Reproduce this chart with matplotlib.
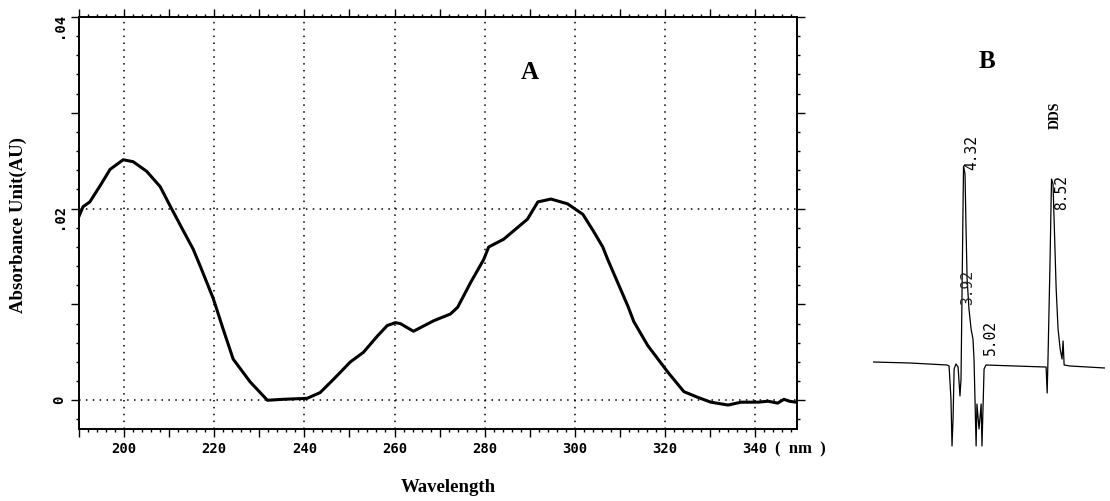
import numpy as np
import matplotlib
matplotlib.use('Agg')
import matplotlib.pyplot as plt
from matplotlib.ticker import MultipleLocator, FuncFormatter

# panel A : UV spectrum
wavelength = [190.0, 190.9, 192.4, 194.7, 196.9, 199.8, 202.0, 205.0, 208.0, 210.2,
              212.9, 215.3, 216.9, 219.8, 222.0, 224.2, 228.0, 231.8, 235.3, 240.6,
              243.5, 246.5, 250.2, 253.1, 256.2, 258.4, 260.2, 261.3, 264.2, 268.7,
              272.4, 274.0, 276.9, 279.8, 280.9, 284.2, 289.5, 291.8, 294.7, 298.4,
              301.8, 304.2, 306.2, 307.3, 311.8, 313.1, 316.2, 320.7, 324.2, 327.3,
              330.2, 334.0, 336.9, 340.7, 342.9, 345.0, 346.4, 347.6, 349.0]
absorbance = [0.0192, 0.0202, 0.0207, 0.0224, 0.0241, 0.0251, 0.0249, 0.0239, 0.0223, 0.0203,
              0.0179, 0.0158, 0.0140, 0.0106, 0.0074, 0.0043, 0.0019, 0.0000, 0.0001, 0.0002,
              0.0008, 0.0022, 0.0040, 0.0050, 0.0067, 0.0078, 0.0081, 0.0080, 0.0072, 0.0083,
              0.0090, 0.0097, 0.0123, 0.0147, 0.0160, 0.0168, 0.0189, 0.0207, 0.0210, 0.0205,
              0.0194, 0.0176, 0.0160, 0.0147, 0.0098, 0.0082, 0.0057, 0.0029, 0.0009, 0.0003,
              -0.0002, -0.0005, -0.0002, -0.0002, -0.0001, -0.0003, 0.0001, -0.0001, -0.0002]

# panel B : chromatogram (min, response)
rt = [0.00, 1.77, 3.53, 3.63, 3.72, 3.77, 3.82, 3.87, 3.96, 4.06,
      4.15, 4.20, 4.30, 4.32, 4.39, 4.44, 4.49, 4.58, 4.68, 4.77,
      4.82, 4.92, 4.96, 5.06, 5.16, 5.20, 5.30, 5.39, 6.78, 8.21,
      8.26, 8.31, 8.35, 8.45, 8.50, 8.52, 8.59, 8.64, 8.74, 8.83,
      8.93, 9.02, 9.07, 9.12, 9.40, 11.07]
signal = [0.2, 0.1, -0.1, -0.2, -3.5, -8.2, -5.5, -0.5, 0.0, -0.3,
          -3.2, -1.5, 16.5, 19.8, 19.0, 13.5, 8.5, 5.5, 3.5, 2.5,
          0.5, -8.2, -4.0, -6.5, -4.0, -8.2, -0.5, -0.1, -0.2, -0.3,
          -0.3, -2.9, 0.5, 10.5, 16.5, 18.5, 18.0, 14.5, 7.5, 3.5,
          1.5, 0.5, 2.3, -0.1, -0.2, -0.4]
peak_names = ['4.32', '3.92', '5.02', '8.52']
peak_t = [4.73, 4.53, 5.58, 9.02]
peak_s = [21.2, 7.7, 2.7, 17.2]

plt.rcParams['font.family'] = 'DejaVu Sans Mono'
plt.rcParams['font.weight'] = 'bold'
serif = 'Liberation Serif'

fig = plt.figure(figsize=(11.1, 5.02), dpi=100)
ax = fig.add_axes([79/1110, 1-430/502, 718/1110, 412/502])

ax.plot(wavelength, absorbance, color='black', lw=2.2, solid_joinstyle='round', zorder=3)
ax.set_xlim(190, 349.3)
ax.set_ylim(-0.003, 0.04)

dots = (0, (1, 3.5))
ax.vlines(np.arange(200, 341, 20), -0.003, 0.04, colors='black', linestyles=dots, lw=1.1, zorder=1)
ax.hlines([0, 0.02], 190, 349.3, colors='black', linestyles=dots, lw=1.1, zorder=1)

ax.xaxis.set_major_locator(MultipleLocator(10))
ax.xaxis.set_minor_locator(MultipleLocator(2))
ax.yaxis.set_major_locator(MultipleLocator(0.01))
ax.yaxis.set_minor_locator(MultipleLocator(0.002))
ax.xaxis.set_major_formatter(FuncFormatter(lambda v, p: '%d' % round(v) if round(v) % 20 == 0 else ''))

def yfmt(v, p):
    k = int(round(v * 100))
    if k == 0:
        return '0'
    if k % 2 == 0:
        return ('%.2f' % v).lstrip('0')
    return ''
ax.yaxis.set_major_formatter(FuncFormatter(yfmt))

ax.tick_params(which='both', direction='out', top=True, right=True, width=1.0)
ax.tick_params(which='major', length=6)
ax.tick_params(which='minor', length=2.2)
ax.tick_params(axis='x', labelsize=10, pad=3)
ax.tick_params(axis='y', labelsize=10, pad=3, labelrotation=90)
for s in ax.spines.values():
    s.set_linewidth(1.4)

ax.text(290, 0.0343, 'A', family=serif, fontweight='bold', fontsize=18, ha='center', va='center')
fig.text(775/1110, 1-449/502, '(  nm  )', family=serif, fontweight='bold', fontsize=12, ha='left', va='center')
fig.text(448/1110, 1-488/502, 'Wavelength', family=serif, fontweight='bold', fontsize=13.5, ha='center', va='center')
fig.text(18/1110, 1-225/502, 'Absorbance Unit(AU)', family=serif, fontweight='bold', fontsize=13.5,
         rotation=90, ha='center', va='center')

bx = fig.add_axes([873/1110, 1-460/502, 232/1110, 420/502])
bx.plot(rt, signal, color='black', lw=0.9)
bx.set_xlim(0, 11.07)
bx.set_ylim(-9.5, 32.5)
bx.axis('off')
for name, t, s in zip(peak_names, peak_t, peak_s):
    bx.text(t, s, name, rotation=90, ha='center', va='center', fontsize=10.5, fontweight='normal',
            color='#222222' if name == '3.92' else 'black')
bx.text(8.69, 25.0, 'DDS', rotation=90, ha='center', va='center', family=serif, fontweight='bold', fontsize=10)
bx.text(5.44, 30.3, 'B', ha='center', va='center', family=serif, fontweight='bold', fontsize=18)

fig.savefig('out.png', dpi=100)
